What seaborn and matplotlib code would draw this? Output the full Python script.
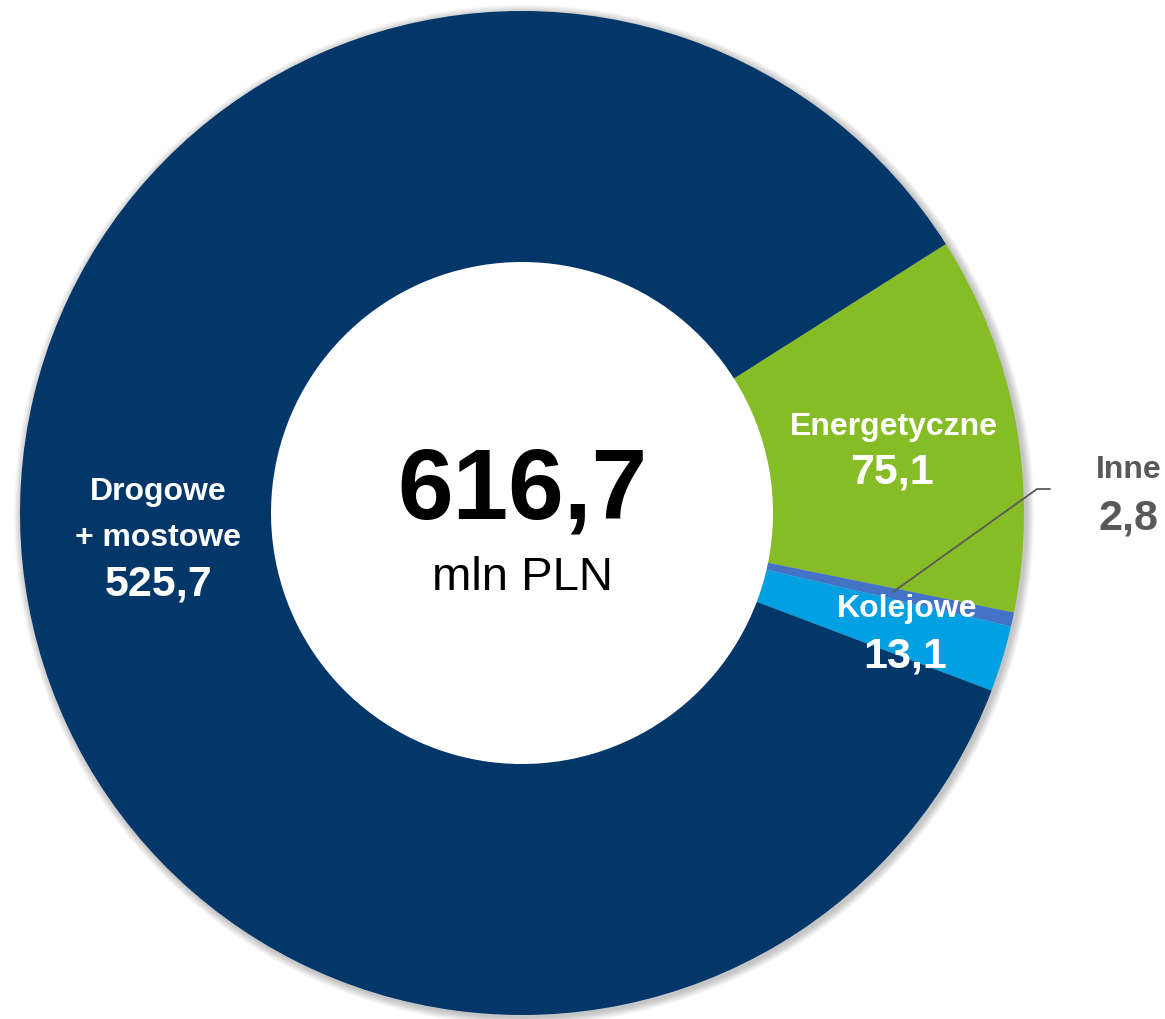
import matplotlib
matplotlib.use("Agg")
import matplotlib.pyplot as plt
from matplotlib.patches import Circle
import seaborn as sns

categories = ["Energetyczne", "Inne", "Kolejowe", "Drogowe\n+ mostowe"]
values = [75.1, 2.8, 13.1, 525.7]
value_labels = ["75,1", "2,8", "13,1", "525,7"]
total_label = "616,7"
unit_label = "mln PLN"
colors = ["#86BC25", "#4472C4", "#00A0E3", "#03376A"]

sns.set_theme(style="white")
plt.rcParams["font.family"] = ["Liberation Sans", "DejaVu Sans"]

W, H = 1165, 1020
fig = plt.figure(figsize=(W / 100, H / 100), dpi=100)
ax = fig.add_axes([0, 0, 1, 1])
ax.set_xlim(0, W)
ax.set_ylim(0, H)
ax.set_aspect("equal")
ax.axis("off")

cx, cy = 522, H - 514
R = 502

# soft shadow
for k in range(10):
    ax.add_patch(Circle((cx + 2, cy - 2), R + 1 + k * 0.8, color="black",
                        alpha=0.025, lw=0, zorder=0))
ax.add_patch(Circle((cx, cy), R / 2 + 2, color="white", lw=0, zorder=0.5))

ax.pie(values, colors=colors, startangle=32.4, counterclock=False,
       center=(cx, cy), radius=R, frame=True,
       wedgeprops=dict(width=R / 2, edgecolor="none", linewidth=0))
ax.set_xlim(0, W)
ax.set_ylim(0, H)
ax.axis("off")

def T(x, y, s, size, color="white", weight="bold"):
    ax.text(x, H - y, s, ha="center", va="center", fontsize=size,
            color=color, fontweight=weight, zorder=5)

T(522, 493, total_label, 72, color="black")
T(522, 578, unit_label, 34, color="black", weight="normal")

T(894, 427, categories[0], 23)
T(892, 472, value_labels[0], 31)
T(907, 609, categories[2], 23)
T(905, 656, value_labels[2], 31)
T(158, 492, "Drogowe", 23)
T(158, 538, "+ mostowe", 23)
T(159, 585, value_labels[3], 31)
T(1129, 470, categories[1], 23, color="#595959")
T(1129, 518, value_labels[1], 31, color="#595959")

ax.plot([893, 1037, 1050], [H - 593, H - 490, H - 490], color="#595959",
        lw=1.3, zorder=4)

fig.savefig("out.png", dpi=100, facecolor="white")
